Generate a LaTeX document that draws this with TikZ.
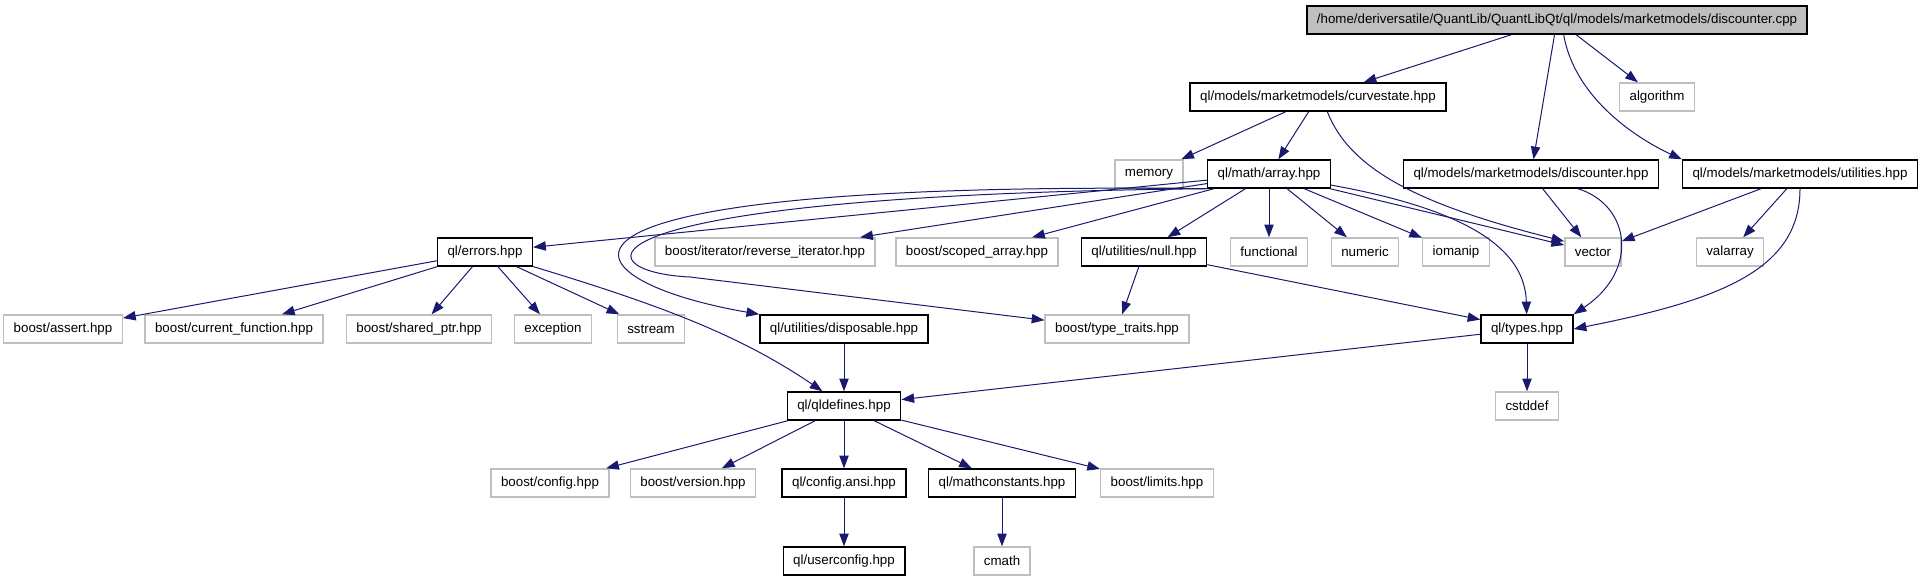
\documentclass[tikz,border=0pt]{standalone}
\usepackage{fontspec}
\setmainfont{Liberation Sans}
\usepackage{xcolor}
\usepackage{tikz}
\usetikzlibrary{positioning, arrows.meta}
\definecolor{edgeblue}{HTML}{191970}
\definecolor{grey75}{HTML}{BFBFBF}

\begin{document}
\begin{tikzpicture}[
  x=0.75pt, y=-0.75pt,
  font=\fontsize{10}{12}\selectfont,
  file/.style={draw=black, line width=1.1pt, fill=white, inner xsep=7.5pt,
               inner ysep=0pt, minimum height=21pt},
  ext/.style={file, draw=grey75},
  root/.style={file, fill=grey75},
  arrow/.style={-{Triangle[length=9.5pt,width=7pt]}, edgeblue, line width=0.75pt},
]
\useasboundingbox (0,0) rectangle (1923,581);

\node[root] (cpp) at (1557,20) {/home/deriversatile/QuantLib/QuantLibQt/ql/models/marketmodels/discounter.cpp};

\node[file] (curvestate) at (1318,97) {ql/models/marketmodels/curvestate.hpp};
\node[ext] (algorithm) at (1657,97) {algorithm};

\node[ext] (memory) at (1149,174) {memory};
\node[file] (array) at (1269,174) {ql/math/array.hpp};
\node[file] (discounter) at (1531,174) {ql/models/marketmodels/discounter.hpp};
\node[file] (utilities) at (1800,174) {ql/models/marketmodels/utilities.hpp};

\node[file] (errors) at (485,252) {ql/errors.hpp};
\node[ext] (reverse) at (765,252) {boost/iterator/reverse\_iterator.hpp};
\node[ext] (scoped) at (977,252) {boost/scoped\_array.hpp};
\node[file] (null) at (1144,252) {ql/utilities/null.hpp};
\node[ext] (functional) at (1269,252) {functional};
\node[ext] (numeric) at (1365,252) {numeric};
\node[ext] (iomanip) at (1456,252) {iomanip};
\node[ext] (vector) at (1593,252) {vector};
\node[ext] (valarray) at (1730,252) {valarray};

\node[ext] (assert) at (63,329) {boost/assert.hpp};
\node[ext] (curfunc) at (234,329) {boost/current\_function.hpp};
\node[ext] (sharedptr) at (419,329) {boost/shared\_ptr.hpp};
\node[ext] (exception) at (553,329) {exception};
\node[ext] (sstream) at (651,329) {sstream};
\node[file] (disposable) at (844,329) {ql/utilities/disposable.hpp};
\node[ext] (traits) at (1117,329) {boost/type\_traits.hpp};
\node[file] (types) at (1527,329) {ql/types.hpp};

\node[file] (qldefines) at (844,406) {ql/qldefines.hpp};
\node[ext] (cstddef) at (1527,406) {cstddef};

\node[ext] (config) at (550,483) {boost/config.hpp};
\node[ext] (version) at (693,483) {boost/version.hpp};
\node[file] (configansi) at (844,483) {ql/config.ansi.hpp};
\node[file] (mathconst) at (1002,483) {ql/mathconstants.hpp};
\node[ext] (limits) at (1157,483) {boost/limits.hpp};

\node[file] (userconfig) at (844,561) {ql/userconfig.hpp};
\node[ext] (cmath) at (1002,561) {cmath};

\draw[arrow] (cpp) -- (curvestate);
\draw[arrow] (cpp) -- (discounter);
\draw[arrow] (cpp) -- (algorithm);
\draw[arrow] ([xshift=5]cpp.south) .. controls (1575,100) and (1640,140) .. (utilities.north west);

\draw[arrow] (curvestate) -- (memory);
\draw[arrow] (curvestate) -- (array);
\draw[arrow] ([xshift=7]curvestate.south) .. controls (1350,170) and (1420,205) .. ([yshift=-3]vector.north west);

\draw[arrow] (array) -- (errors);
\draw[arrow] (array) -- (reverse);
\draw[arrow] (array) -- (scoped);
\draw[arrow] (array) -- (null);
\draw[arrow] (array) -- (functional);
\draw[arrow] (array) -- (numeric);
\draw[arrow] (array) -- (iomanip);
\draw[arrow] (array) -- (vector);
\draw[arrow] (array) .. controls (1470,210) and (1525,250) .. (types);
\draw[arrow] (array.south west) .. controls (480,180) and (560,280) .. (disposable.north west);
\draw[arrow] (array.south west) .. controls (560,195) and (580,272) .. (690,277) -- (traits);

\draw[arrow] (discounter) -- (vector);
\draw[arrow] (discounter) .. controls (1630,205) and (1640,270) .. (types.north east);
\draw[arrow] (utilities) -- (vector);
\draw[arrow] (utilities) -- (valarray);
\draw[arrow] (utilities) .. controls (1800,270) and (1720,300) .. (types.east);

\draw[arrow] (errors) -- (assert);
\draw[arrow] (errors) -- (curfunc);
\draw[arrow] (errors) -- (sharedptr);
\draw[arrow] (errors) -- (exception);
\draw[arrow] (errors) -- (sstream);
\draw[arrow] (errors) .. controls (660,305) and (740,335) .. (qldefines);

\draw[arrow] (null) -- (traits);
\draw[arrow] (null) -- (types);
\draw[arrow] (disposable) -- (qldefines);
\draw[arrow] (types) -- (qldefines);
\draw[arrow] (types) -- (cstddef);

\draw[arrow] (qldefines) -- (config);
\draw[arrow] (qldefines) -- (version);
\draw[arrow] (qldefines) -- (configansi);
\draw[arrow] (qldefines) -- (mathconst);
\draw[arrow] (qldefines) -- (limits);
\draw[arrow] (configansi) -- (userconfig);
\draw[arrow] (mathconst) -- (cmath);
\end{tikzpicture}
\end{document}
